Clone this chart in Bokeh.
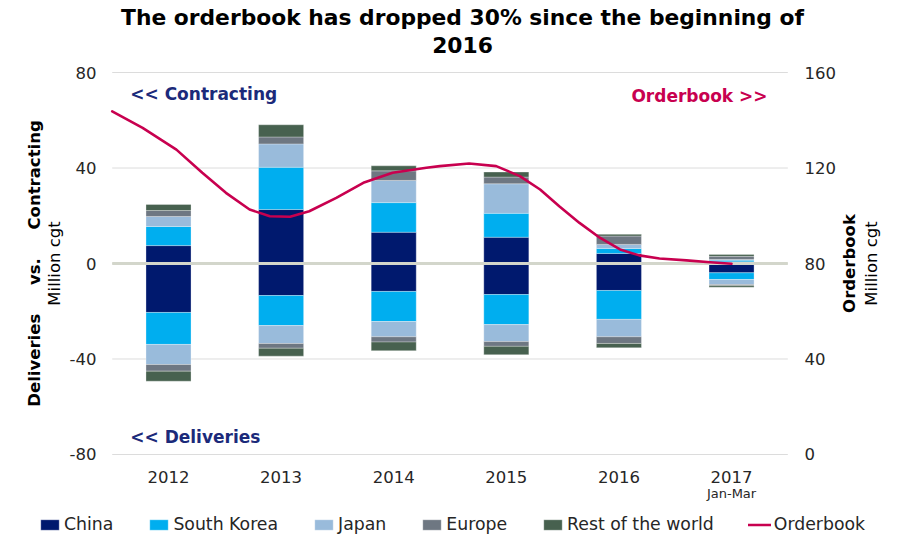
import math
from bokeh.plotting import figure
from bokeh.models import Range1d, Label, Legend, LegendItem, ColumnDataSource
from bokeh.core.properties import value
from bokeh.embed import file_html
from bokeh.resources import INLINE

# ---------------- data ----------------
years = ["2012", "2013", "2014", "2015", "2016", "2017"]
period_note = "Jan-Mar"          # 2017 covers Jan-Mar only

regions = ["China", "South Korea", "Japan", "Europe", "Rest of the world"]

# Contracting (million cgt, positive)
china_contracting = [7.5, 22.6, 13.1, 11.0, 4.2, 0.7]
korea_contracting = [8.0, 17.7, 12.4, 10.0, 2.1, 0.7]
japan_contracting = [4.2, 9.8, 9.3, 12.4, 1.7, 0.3]
europe_contracting = [2.5, 2.9, 4.0, 2.8, 3.5, 1.3]
rest_contracting = [2.5, 5.1, 2.1, 2.1, 0.7, 0.8]

# Deliveries (million cgt, shown below zero)
china_deliveries = [20.5, 13.4, 11.7, 13.0, 11.3, 3.9]
korea_deliveries = [13.4, 12.6, 12.6, 12.6, 12.1, 2.8]
japan_deliveries = [8.4, 7.5, 6.4, 7.1, 7.3, 2.1]
europe_deliveries = [2.8, 2.0, 2.2, 2.0, 2.8, 0.4]
rest_deliveries = [4.2, 3.3, 3.6, 3.5, 1.8, 0.7]

# Orderbook (million cgt, right axis); time in year-index units (0 = 2012)
orderbook_t = [-0.5, -0.23, 0.07, 0.30, 0.51, 0.72, 0.90, 1.08, 1.25, 1.49, 1.73,
               1.99, 2.29, 2.41, 2.67, 2.91, 3.12, 3.30, 3.47, 3.65, 3.83, 4.01,
               4.18, 4.36, 4.60, 4.81, 5.00]
orderbook_val = [143.7, 136.8, 127.7, 118.0, 109.6, 102.6, 99.8, 99.6, 101.9, 107.5,
                 113.8, 118.0, 120.1, 120.8, 121.9, 120.8, 116.6, 111.0, 104.0, 97.0,
                 90.8, 85.9, 83.4, 82.1, 81.3, 80.5, 79.9]

left_ticks = [-80, -40, 0, 40, 80]
right_ticks = [0, 40, 80, 120, 160]

title_lines = ["The orderbook has dropped 30% since the beginning of", "2016"]

# ---------------- styles ----------------
colors = ["#00196E", "#00AEEF", "#99BBDB", "#6E7782", "#47614F"]
line_color = "#C8004F"
navy_text = "#1B2A7A"
tick_color = "#262626"
FONT = "DejaVu Sans"
NB = "\u00a0"

# The whole canvas is the plotting frame; text sits at fixed places in data units.
X0, X1 = -1.492, 6.394          # visible x extent (year-index units)
Y0, Y1 = -113.51, 110.16        # visible extent on the left (million cgt) scale
RIGHT_SHIFT = right_ticks[2] - left_ticks[2]   # right axis 80 sits on left axis 0

x = list(range(len(years)))
pos_keys = ["c_china", "c_korea", "c_japan", "c_europe", "c_rest"]
neg_keys = ["d_china", "d_korea", "d_japan", "d_europe", "d_rest"]
src = ColumnDataSource(dict(
    x=x,
    c_china=china_contracting, c_korea=korea_contracting, c_japan=japan_contracting,
    c_europe=europe_contracting, c_rest=rest_contracting,
    d_china=[-v for v in china_deliveries], d_korea=[-v for v in korea_deliveries],
    d_japan=[-v for v in japan_deliveries], d_europe=[-v for v in europe_deliveries],
    d_rest=[-v for v in rest_deliveries],
))

p = figure(width=888, height=534,
           x_range=Range1d(X0, X1), y_range=Range1d(Y0, Y1),
           output_backend="svg", toolbar_location=None,
           x_axis_location=None, y_axis_location=None, title_location=None,
           min_border=0)
p.extra_y_ranges = {"ob": Range1d(Y0 + RIGHT_SHIFT, Y1 + RIGHT_SHIFT)}
p.outline_line_color = None
p.background_fill_color = "white"
p.border_fill_color = "white"
p.xgrid.visible = False
p.ygrid.visible = False

# grid lines (across the category span)
x_lo, x_hi = x[0] - 0.5, x[-1] + 0.5
p.segment(x0=[x_lo] * len(left_ticks), x1=[x_hi] * len(left_ticks),
          y0=left_ticks, y1=left_ticks, line_color="#dcdcdc", line_width=1)

pos_r = p.vbar_stack(pos_keys, x="x", width=0.4, source=src, color=colors,
                     line_color="white", line_width=0.6, line_alpha=0.5)
p.vbar_stack(neg_keys, x="x", width=0.4, source=src, color=colors,
             line_color="white", line_width=0.6, line_alpha=0.5)

# zero line on top of bars
p.segment(x0=[x_lo], x1=[x_hi], y0=[0], y1=[0], line_color="#d3d6cb", line_width=3)

ob_src = ColumnDataSource(dict(t=orderbook_t, v=orderbook_val))
ob_r = p.line("t", "v", source=ob_src, y_range_name="ob", line_color=line_color,
              line_width=2.6, line_join="round", line_cap="round")

# ---------------- tick labels ----------------
p.text(x=[-0.639] * len(left_ticks), y=left_ticks, text=[str(t) for t in left_ticks],
       text_align="right", text_baseline="middle", text_font=value(FONT),
       text_font_size="16.5px", text_color=tick_color)
p.text(x=[5.648] * len(right_ticks), y=right_ticks, text=[str(t) for t in right_ticks],
       y_range_name="ob", text_align="left", text_baseline="middle",
       text_font=value(FONT), text_font_size="16.5px", text_color=tick_color)
p.text(x=x, y=[-89.6] * len(x), text=years, text_align="center", text_baseline="middle",
       text_font=value(FONT), text_font_size="16.5px", text_color=tick_color)
p.add_layout(Label(x=x[-1], y=-96.5, text=period_note, text_align="center",
                   text_baseline="middle", text_font=FONT, text_font_size="13px",
                   text_color=tick_color))

# ---------------- axis titles ----------------
gap = " " + NB * 4
axis_titles = [("Deliveries" + gap + "vs." + gap + "Contracting", -1.190, "bold"),
               ("Million cgt", -1.012, "normal"),
               ("Orderbook", 6.048, "bold"),
               ("Million cgt", 6.243, "normal")]
for txt, xx, style in axis_titles:
    p.add_layout(Label(x=xx, y=0, text=txt, angle=math.pi / 2, text_align="center",
                       text_baseline="middle", text_font=FONT, text_font_size="16.5px",
                       text_font_style=style, text_color="#000000"))

# ---------------- chart title ----------------
for txt, yy in zip(title_lines, [103.0, 91.7]):
    p.add_layout(Label(x=2.611, y=yy, text=txt, text_align="center", text_baseline="middle",
                       text_font=FONT, text_font_size="21.8px", text_font_style="bold",
                       text_color="#000000"))

# ---------------- annotations ----------------
for txt, xx, yy, align, col in [("<< Contracting", -0.34, 70.8, "left", navy_text),
                                ("Orderbook >>", 5.32, 70.0, "right", line_color),
                                ("<< Deliveries", -0.34, -72.5, "left", navy_text)]:
    p.add_layout(Label(x=xx, y=yy, text=txt, text_align=align, text_baseline="middle",
                       text_font=FONT, text_font_size="17px", text_font_style="bold",
                       text_color=col))

# ---------------- legend ----------------
items = [LegendItem(label=name, renderers=[r]) for name, r in zip(regions, pos_r)]
items.append(LegendItem(label="Orderbook", renderers=[ob_r]))
legend = Legend(items=items, orientation="horizontal", location=(38, 0),
                label_text_font=FONT, label_text_font_size="17.3px",
                label_text_color=tick_color, glyph_width=23, glyph_height=13,
                label_standoff=3, spacing=34, padding=0, margin=0,
                label_height=16, border_line_color=None, background_fill_alpha=0)
p.add_layout(legend, "center")

open("out.html", "w").write(file_html(p, INLINE))
